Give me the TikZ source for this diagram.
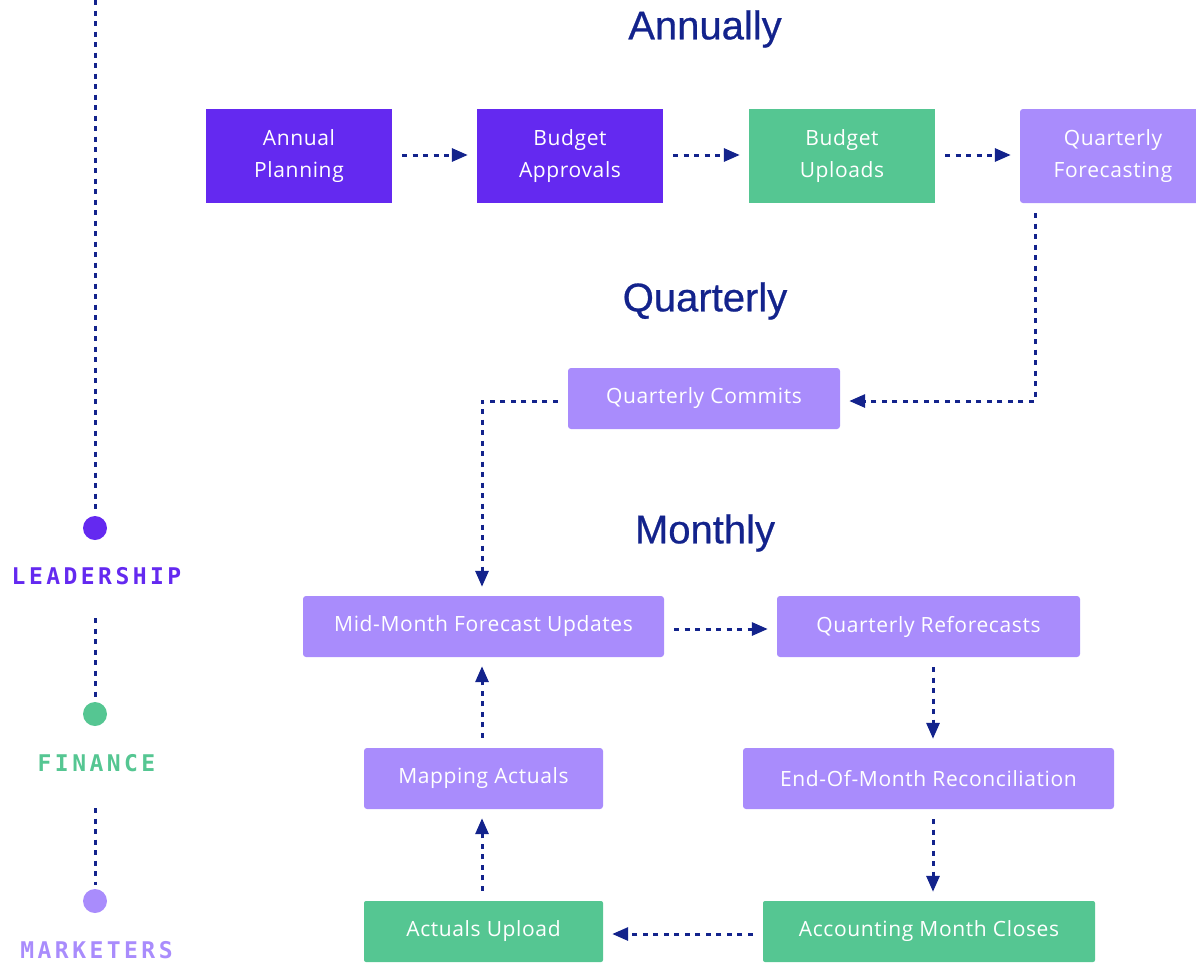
\documentclass[tikz,border=0pt]{standalone}
\usepackage{fontspec}
\setmainfont[LetterSpace=3]{Open Sans}
\newfontfamily\titlefont[FakeBold=0.6]{Liberation Sans}
\newfontfamily\monofont[LetterSpace=15]{DejaVu Sans Mono}
\usetikzlibrary{arrows.meta}
\definecolor{dpurple}{HTML}{6429F0}
\definecolor{lpurple}{HTML}{A98CFC}
\definecolor{mgreen}{HTML}{55C692}
\definecolor{navy}{HTML}{13238C}
\tikzset{
  box/.style={rectangle, inner sep=0pt, text=white, align=center,
    font=\fontsize{21}{32}\selectfont},
  dbox/.style={box, fill=dpurple},
  gbox/.style={box, fill=mgreen, rounded corners=2pt},
  gsbox/.style={box, fill=mgreen},
  lbox/.style={box, fill=lpurple, rounded corners=3pt},
  conn/.style={navy, line width=3pt, dash pattern=on 5pt off 5.5pt,
    -{Triangle[length=16pt,width=13pt]}, shorten <=10pt, shorten >=9pt},
  dline/.style={navy, line width=3pt, dash pattern=on 5pt off 5.5pt},
  title/.style={text=navy, font=\titlefont\fontsize{40}{48}\selectfont},
  role/.style={font=\monofont\bfseries\fontsize{23}{28}\selectfont},
  dot/.style={circle, inner sep=0pt, minimum size=24pt}
}
\begin{document}
\begin{tikzpicture}[x=1pt,y=-1pt]
\useasboundingbox (0,0) rectangle (1196,962);
% titles
\node[title] (tA) at (705,29) {Annually};
\node[title] (tQ) at (705,301) {Quarterly};
\node[title] (tM) at (705,533) {Monthly};
% top row
\node[dbox, minimum width=186pt, minimum height=94pt] (ap) at (299,156) {Annual\\Planning};
\node[dbox, minimum width=186pt, minimum height=94pt] (ba) at (570,156) {Budget\\Approvals};
\node[gsbox, minimum width=186pt, minimum height=94pt] (bu) at (842,156) {Budget\\Uploads};
\node[lbox, minimum width=186pt, minimum height=94pt] (qf) at (1113,156) {Quarterly\\Forecasting};
% quarterly
\node[lbox, minimum width=272pt, minimum height=61pt] (qc) at (704,398.5) {Quarterly Commits};
% monthly
\node[lbox, minimum width=361pt, minimum height=61pt] (mm) at (483.5,626.5) {Mid-Month Forecast Updates};
\node[lbox, minimum width=303pt, minimum height=61pt] (qr) at (928.5,626.5) {Quarterly Reforecasts};
\node[lbox, minimum width=239pt, minimum height=61pt] (ma) at (483.5,778.5) {Mapping Actuals};
\node[lbox, minimum width=371pt, minimum height=61pt] (eo) at (928.5,778.5) {End-Of-Month Reconciliation};
\node[gbox, minimum width=239pt, minimum height=61pt] (au) at (483.5,931.5) {Actuals Upload};
\node[gbox, minimum width=332pt, minimum height=61pt] (amc) at (929,931.5) {Accounting Month Closes};
% guide coordinates
\coordinate (hTop) at (0,155);
\coordinate (hMid) at (0,629);
\coordinate (hBot) at (0,934);
\coordinate (vL) at (482,0);
\coordinate (vR) at (933,0);
% connectors
\draw[conn] (ap.east |- hTop) -- (ba.west |- hTop);
\draw[conn] (ba.east |- hTop) -- (bu.west |- hTop);
\draw[conn] (bu.east |- hTop) -- (qf.west |- hTop);
\coordinate (c1) at (1035,401);
\draw[conn] (qf.south -| c1) -- (c1) -- (c1 -| qc.east);
\coordinate (c2) at (482,401);
\draw[conn] (qc.west |- c2) -- (c2) -- (c2 |- mm.north);
\draw[conn] (mm.east |- hMid) -- (qr.west |- hMid);
\draw[conn] (qr.south -| vR) -- (eo.north -| vR);
\draw[conn] (eo.south -| vR) -- (amc.north -| vR);
\draw[conn] (amc.west |- hBot) -- (au.east |- hBot);
\draw[conn] (au.north -| vL) -- (ma.south -| vL);
\draw[conn] (ma.north -| vL) -- (mm.south -| vL);
% roles
\node[dot, fill=dpurple] (d1) at (95,528) {};
\node[dot, fill=mgreen] (d2) at (95,714) {};
\node[dot, fill=lpurple] (d3) at (95,901) {};
\node[role, text=dpurple] (r1) at (96.5,576) {LEADERSHIP};
\node[role, text=mgreen] (r2) at (96.5,763) {FINANCE};
\node[role, text=lpurple] (r3) at (96.5,950) {MARKETERS};
\coordinate (top) at (95,0);
\coordinate (s2) at (95,618);
\coordinate (s3) at (95,808);
\draw[dline, shorten >=4pt] (top) -- (d1.north);
\draw[dline, shorten >=4pt] (s2) -- (d2.north);
\draw[dline, shorten >=4pt] (s3) -- (d3.north);
\end{tikzpicture}
\end{document}
